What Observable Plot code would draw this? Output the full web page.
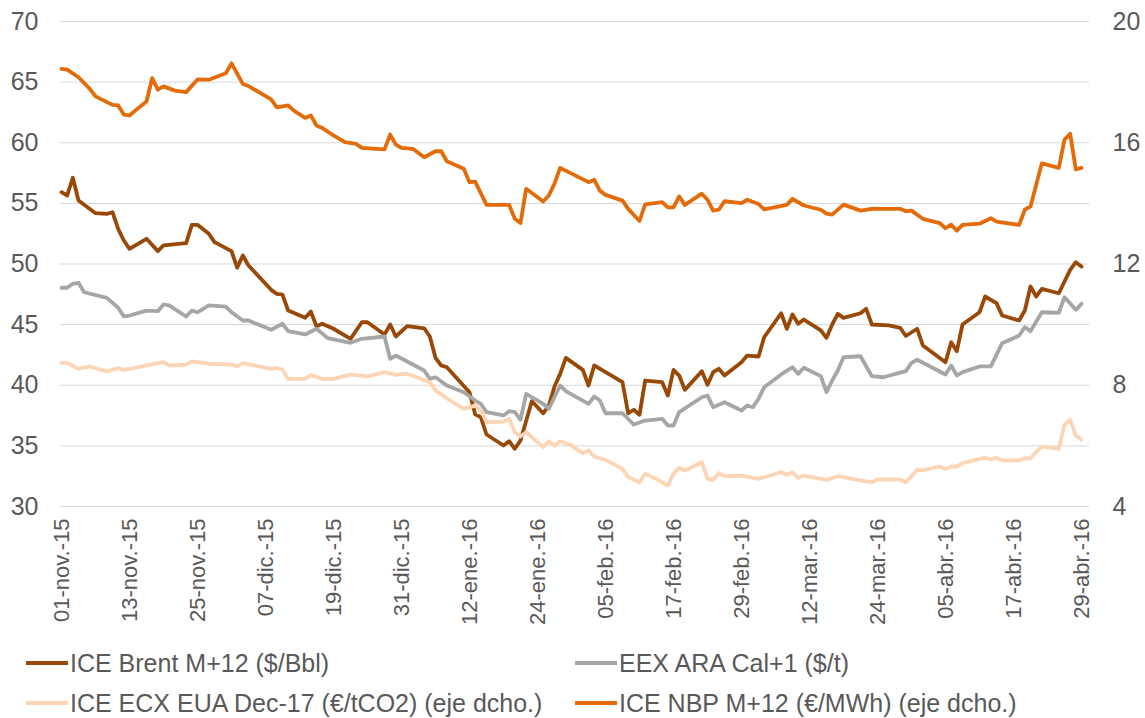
<!DOCTYPE html>
<html>
<head>
<meta charset="utf-8">
<script src="https://cdn.jsdelivr.net/npm/d3@7"></script>
<script src="https://cdn.jsdelivr.net/npm/@observablehq/plot@0.6"></script>
<style>
  html, body { margin: 0; padding: 0; background: #fff; }
  #wrap { position: relative; width: 1145px; height: 718px; font-family: "Liberation Sans", Arial, sans-serif; }
  #legend { position: absolute; left: 0; top: 640px; width: 1145px; height: 78px; }
  .item { position: absolute; display: flex; align-items: center; font-size: 25px; color: #595959; white-space: nowrap; }
  .sw { width: 42px; height: 4px; margin-right: 2px; }
</style>
</head>
<body>
<div id="wrap">
  <div id="chart"></div>
  <div id="legend"></div>
</div>
<script>
// Days counted from 01-nov-2015
const startDate = "2015-11-01";

const brentDay = [0,1,2,3,6,8,9,10,11,12,15,17,18,22,23,24,26,27,30,31,32,33,37,38,39,40,43,44,45,46,48,51,53,54,57,58,59,61,64,65,66,67,68,72,73,74,75,78,79,80,81,83,85,86,87,88,89,92,93,94,99,100,101,102,103,106,107,108,109,110,113,114,115,116,117,120,121,123,124,127,128,129,130,131,134,135,136,137,138,141,142,143,146,148,149,151,152,156,157,158,159,162,163,165,166,169,170,171,172,173,176,178,179,180];
const brentValue = [55.92,55.65,57.11,55.24,54.19,54.14,54.27,52.90,51.94,51.25,52.08,51.06,51.53,51.72,53.23,53.23,52.49,51.80,51.06,49.69,50.70,49.88,47.87,47.54,47.48,46.16,45.56,46.08,44.85,45.07,44.66,43.83,45.20,45.20,44.19,45.01,44.02,44.87,44.70,44.02,42.26,41.63,41.49,39.43,37.60,37.36,35.94,35.03,35.39,34.76,35.44,38.68,37.69,38.33,39.90,40.94,42.26,41.27,39.98,41.63,40.25,37.69,37.98,37.56,40.39,40.25,39.15,41.27,40.80,39.62,41.16,40.04,41.08,41.36,40.80,41.90,42.45,42.37,43.96,45.94,44.66,45.84,45.07,45.42,44.52,43.91,45.01,45.89,45.56,45.94,46.30,45.01,44.93,44.74,44.06,44.66,43.28,41.90,43.55,42.81,45.01,46.02,47.32,46.77,45.75,45.34,46.16,48.14,47.32,47.95,47.59,49.52,50.15,49.79];

const coalDay = [0,1,2,3,4,8,10,11,12,15,17,18,19,22,23,24,26,29,30,32,33,37,39,40,43,45,47,51,53,57,58,59,64,65,66,68,71,73,74,75,78,79,80,81,82,85,86,88,89,93,94,95,96,99,101,103,106,107,108,109,113,114,115,117,120,121,122,123,124,127,129,130,131,134,135,136,137,138,141,143,145,149,150,151,156,157,158,159,162,164,166,169,170,171,173,176,177,179,180];
const coalValue = [48.04,48.04,48.37,48.45,47.67,47.21,46.39,45.67,45.75,46.16,46.11,46.66,46.58,45.67,46.16,46.02,46.58,46.49,46.02,45.34,45.34,44.57,45.07,44.46,44.19,44.66,43.88,43.50,43.83,44.02,42.18,42.45,41.22,40.53,40.66,39.98,39.43,38.74,38.47,37.78,37.51,37.86,37.78,37.15,39.29,38.47,38.06,39.98,39.51,38.47,39.07,38.74,37.69,37.69,36.76,37.09,37.23,36.68,36.68,37.78,39.01,39.15,38.19,38.60,37.92,38.33,38.19,38.88,39.84,40.89,41.49,40.94,41.44,40.75,39.43,40.39,41.22,42.31,42.39,40.75,40.66,41.16,41.85,42.10,40.89,41.63,40.80,41.08,41.55,41.55,43.47,44.10,44.79,44.46,46.02,45.98,47.26,46.22,46.72];

const euaDay = [0,1,3,5,8,10,11,12,17,18,19,22,23,26,30,31,32,37,38,39,40,43,44,46,48,51,53,54,57,59,61,65,66,69,71,73,74,75,78,79,80,81,82,85,86,87,88,90,92,93,94,96,99,100,102,103,105,107,108,109,110,113,114,115,116,117,120,123,127,128,129,130,131,135,137,141,143,144,148,149,151,152,155,156,157,158,159,163,164,165,166,169,170,171,173,176,177,178,179,180];
const euaValue = [8.74,8.74,8.54,8.62,8.46,8.57,8.51,8.54,8.73,8.76,8.65,8.68,8.79,8.71,8.68,8.62,8.73,8.54,8.57,8.51,8.21,8.21,8.34,8.21,8.21,8.35,8.32,8.29,8.43,8.34,8.38,8.10,7.83,7.44,7.22,7.33,7.17,6.78,6.80,6.89,6.45,6.31,6.45,5.96,6.15,6.01,6.15,6.01,5.76,5.85,5.65,5.54,5.24,4.97,4.80,5.08,4.91,4.69,5.08,5.28,5.19,5.46,4.91,4.88,5.10,5.00,5.02,4.91,5.13,5.05,5.13,4.94,5.02,4.88,5.00,4.86,4.80,4.89,4.89,4.80,5.21,5.19,5.32,5.24,5.32,5.32,5.43,5.61,5.55,5.61,5.52,5.52,5.59,5.59,5.98,5.90,6.70,6.86,6.34,6.20];

const nbpDay = [0,1,3,5,6,9,10,11,12,13,15,16,17,18,20,22,24,26,29,30,32,33,37,38,40,41,43,44,45,46,48,50,52,53,57,58,59,60,62,64,66,67,68,71,72,73,75,79,80,81,82,85,86,87,88,93,94,95,96,99,100,102,103,106,107,108,109,110,113,114,115,116,117,120,121,123,124,128,129,131,134,135,136,138,141,143,148,149,150,152,155,156,157,158,159,162,164,165,169,170,171,173,176,177,178,179,180];
const nbpValue = [18.44,18.41,18.16,17.78,17.53,17.25,17.23,16.93,16.90,17.06,17.36,18.13,17.75,17.86,17.72,17.67,18.09,18.08,18.29,18.62,17.94,17.87,17.43,17.17,17.23,17.06,16.82,16.90,16.57,16.49,16.24,16.02,15.96,15.83,15.78,16.27,15.94,15.83,15.80,15.52,15.72,15.72,15.39,15.14,14.70,14.72,13.95,13.95,13.49,13.35,14.48,14.06,14.26,14.65,15.17,14.70,14.78,14.42,14.28,14.09,13.82,13.42,13.97,14.04,13.87,13.87,14.23,13.95,14.32,14.12,13.76,13.79,14.07,14.01,14.12,13.98,13.80,13.95,14.15,13.93,13.79,13.66,13.63,13.96,13.76,13.82,13.82,13.74,13.76,13.49,13.35,13.18,13.30,13.10,13.29,13.33,13.51,13.40,13.29,13.79,13.90,15.32,15.17,16.10,16.30,15.12,15.17];

const seriesNames = ["ICE Brent M+12 ($/Bbl)", "EEX ARA Cal+1 ($/t)", "ICE ECX EUA Dec-17 (€/tCO2) (eje dcho.)", "ICE NBP M+12 (€/MWh) (eje dcho.)"];
const seriesColors = ["#984807", "#A6A6A6", "#FCD5B5", "#E36C09"];

const leftTicks = [30, 35, 40, 45, 50, 55, 60, 65, 70];
const rightTicks = [4, 8, 12, 16, 20];
const xTickDays = [0, 12, 24, 36, 48, 60, 72, 84, 96, 108, 120, 132, 144, 156, 168, 180];
const xTickLabels = ["01-nov.-15","13-nov.-15","25-nov.-15","07-dic.-15","19-dic.-15","31-dic.-15","12-ene.-16","24-ene.-16","05-feb.-16","17-feb.-16","29-feb.-16","12-mar.-16","24-mar.-16","05-abr.-16","17-abr.-16","29-abr.-16"];

// ---- build tables ----
const start = new Date(startDate + "T00:00:00Z");
const toDate = d => d3.utcDay.offset(start, d);
// secondary axis: 4..20 maps onto primary 30..70
const sec = v => 30 + (v - 4) * 2.5;
const secInv = v => 4 + (v - 30) / 2.5;

const mk = (days, vals, s, secondary) => days.map((d, i) => ({date: toDate(d), value: secondary ? sec(vals[i]) : vals[i], series: s}));
const brent = mk(brentDay, brentValue, 0, false);
const coal = mk(coalDay, coalValue, 1, false);
const eua = mk(euaDay, euaValue, 2, true);
const nbp = mk(nbpDay, nbpValue, 3, true);

const tickDates = xTickDays.map(toDate);
const labelMap = new Map(tickDates.map((d, i) => [+d, xTickLabels[i]]));

const lineOpts = (i) => ({x: "date", y: "value", stroke: seriesColors[i], strokeWidth: 3.8, strokeLinejoin: "round", strokeLinecap: "round"});

const chart = Plot.plot({
  width: 1145,
  height: 640,
  marginLeft: 60,
  marginRight: 56,
  marginTop: 21,
  marginBottom: 134,
  style: {fontFamily: "'Liberation Sans', Arial, sans-serif", fontSize: "25px", color: "#595959", background: "white"},
  x: {type: "utc", domain: [toDate(0), toDate(180)], insetLeft: 1, insetRight: 8},
  y: {domain: [30, 70]},
  marks: [
    Plot.gridY(leftTicks, {stroke: "#D9D9D9", strokeOpacity: 1, strokeWidth: 1}),
    Plot.axisY(leftTicks, {anchor: "left", tickSize: 0, tickPadding: 22, label: null, fill: "#595959", fontSize: 25}),
    Plot.axisY(rightTicks.map(sec), {anchor: "right", tickSize: 0, tickPadding: 23, label: null, tickFormat: d => String(Math.round(secInv(d))), fill: "#595959", fontSize: 25}),
    Plot.axisX(tickDates, {anchor: "bottom", tickSize: 0, tickPadding: 12, tickRotate: -90, label: null, tickFormat: d => labelMap.get(+d), fill: "#595959", fontSize: 22}),
    Plot.line(brent, lineOpts(0)),
    Plot.line(coal, lineOpts(1)),
    Plot.line(eua, lineOpts(2)),
    Plot.line(nbp, lineOpts(3))
  ]
});
document.getElementById("chart").appendChild(chart);

// ---- legend ----
const legendPos = [[26, 23], [575, 23], [26, 63], [575, 63]];
const legend = document.getElementById("legend");
seriesNames.forEach((name, i) => {
  const it = document.createElement("div");
  it.className = "item";
  it.style.left = legendPos[i][0] + "px";
  it.style.top = (legendPos[i][1] - 15) + "px";
  it.style.height = "30px";
  const sw = document.createElement("span");
  sw.className = "sw";
  sw.style.background = seriesColors[i];
  const tx = document.createElement("span");
  tx.textContent = name;
  it.appendChild(sw);
  it.appendChild(tx);
  legend.appendChild(it);
});
</script>
</body>
</html>
